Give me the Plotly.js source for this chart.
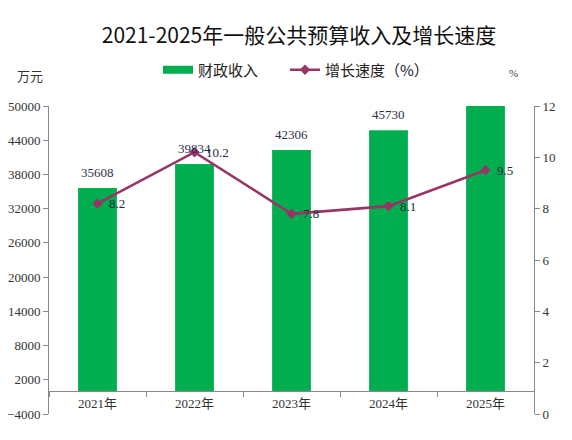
<!DOCTYPE html>
<html><head><meta charset="utf-8">
<script src="https://cdn.plot.ly/plotly-3.0.1.min.js"></script>
<style>html,body{margin:0;padding:0;background:#fff}</style>
</head><body><div id="chart" style="width:572px;height:440px"></div>
<script>
const categories = ['2021年','2022年','2023年','2024年','2025年'];
const revenue = [35608, 39834, 42306, 45730, 50000];
const revenueLabels = ['35608','39834','42306','45730',''];
const growth = [8.2, 10.2, 7.8, 8.1, 9.5];
const growthLabels = ['8.2','10.2','7.8','8.1','9.5'];
const leftTicks = [-4000, 2000, 8000, 14000, 20000, 26000, 32000, 38000, 44000, 50000];
const rightTicks = [0, 2, 4, 6, 8, 10, 12];
const leftRange = [-4000, 50000];
const rightRange = [0, 12];

const W = 572, H = 440;
const M = {l: 49, r: 38, t: 106, b: 26};
const pw = W - M.l - M.r, ph = H - M.t - M.b;
const px2x = p => (p - M.l) / pw;
const px2y = p => (H - M.b - p) / ph;

const GREEN = '#00AE4F';
const PURPLE = '#973567';
const numFont = 'Liberation Serif, Noto Sans CJK SC, serif';
const cjkFont = 'Noto Sans CJK SC, sans-serif';

const traces = [
  {type: 'bar', x: categories, y: revenue, width: 0.4, marker: {color: GREEN},
   showlegend: false, hoverinfo: 'skip', yaxis: 'y'},
  {type: 'scatter', mode: 'lines', x: [null], y: [null], name: '财政收入',
   line: {color: GREEN, width: 8}, legend: 'legend', yaxis: 'y'},
  {type: 'scatter', mode: 'lines+markers', x: categories, y: growth, yaxis: 'y2',
   name: '增长速度（%）', legend: 'legend2',
   line: {color: PURPLE, width: 2.6}, marker: {symbol: 'diamond', size: 8, color: PURPLE}}
];

const annotations = [];
categories.forEach((c, i) => {
  if (revenueLabels[i]) annotations.push({
    x: c, y: revenue[i], xref: 'x', yref: 'y', text: revenueLabels[i], showarrow: false,
    yanchor: 'bottom', yshift: 6, font: {family: numFont, size: 13, color: '#2b2f4a'}
  });
  annotations.push({
    x: c, y: growth[i], xref: 'x', yref: 'y2', text: growthLabels[i], showarrow: false,
    xanchor: 'left', xshift: 9, font: {family: numFont, size: 13, color: '#1e2a3a'}
  });
});
annotations.push({xref: 'paper', yref: 'paper', x: px2x(30), y: px2y(75), text: '万元',
  xanchor: 'center', yanchor: 'middle',
  showarrow: false, font: {family: cjkFont, size: 13, color: '#333'}});
annotations.push({xref: 'paper', yref: 'paper', x: px2x(513), y: px2y(73), text: '%',
  xanchor: 'center', yanchor: 'middle',
  showarrow: false, font: {family: numFont, size: 11, color: '#444'}});

const axisCommon = {showline: true, linecolor: '#888', linewidth: 1, ticks: 'outside',
  ticklen: 5, tickcolor: '#888', showgrid: false, zeroline: false,
  tickfont: {family: numFont, size: 13, color: '#333'}};

const layout = {
  width: W, height: H, margin: Object.assign({pad: 0}, M),
  paper_bgcolor: '#fff', plot_bgcolor: '#fff',
  title: {text: '2021-2025年一般公共预算收入及增长速度', x: 299 / W, xanchor: 'center',
    y: 1 - 36 / H, yanchor: 'middle', xref: 'container', yref: 'container',
    font: {family: cjkFont, size: 21, color: '#111'}},
  xaxis: Object.assign({}, axisCommon, {type: 'category', anchor: 'free',
    position: (0 - leftRange[0]) / (leftRange[1] - leftRange[0]), tickson: 'boundaries',
    tickfont: {family: numFont, size: 13, color: '#333'}}),
  yaxis: Object.assign({}, axisCommon, {range: leftRange, tickvals: leftTicks,
    ticktext: leftTicks.map(v => v < 0 ? '\u2212' + (-v) : String(v)), anchor: 'x'}),
  yaxis2: Object.assign({}, axisCommon, {range: rightRange, tickvals: rightTicks,
    overlaying: 'y', side: 'right', anchor: 'x'}),
  legend: {orientation: 'h', x: px2x(158), y: px2y(70), xanchor: 'left', yanchor: 'middle',
    bgcolor: 'rgba(0,0,0,0)', font: {family: cjkFont, size: 15, color: '#222'}},
  legend2: {orientation: 'h', x: px2x(285), y: px2y(70), xanchor: 'left', yanchor: 'middle',
    bgcolor: 'rgba(0,0,0,0)', font: {family: cjkFont, size: 15, color: '#222'}},
  annotations: annotations,
  bargap: 0.6
};

Plotly.newPlot('chart', traces, layout, {displayModeBar: false, staticPlot: true});
</script></body></html>
